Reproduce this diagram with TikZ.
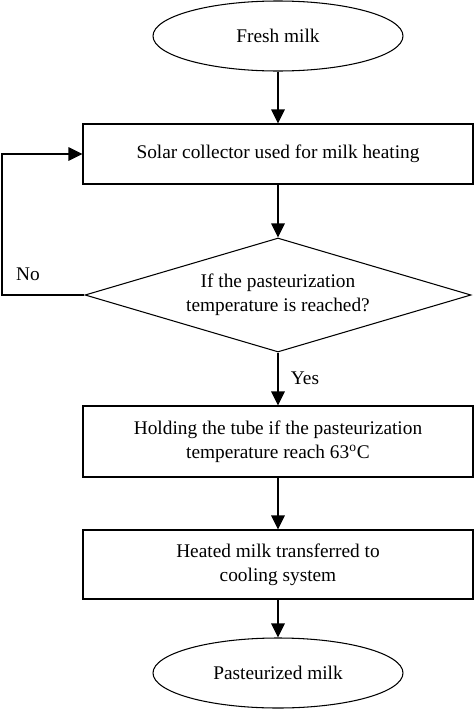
\documentclass[tikz,border=0pt]{standalone}
\usepackage{fontspec}
\setmainfont{Liberation Serif}
\usetikzlibrary{shapes,arrows.meta}

\begin{document}
\begin{tikzpicture}[
    font=\fontsize{11}{13.5}\selectfont,
    line width=0.6pt,
    terminal/.style={ellipse, draw, minimum width=5cm, minimum height=1.4cm},
    process/.style={rectangle, draw, align=center, minimum width=7.8cm},
    decision/.style={diamond, draw, align=center, aspect=3.39, minimum width=7.72cm, minimum height=2.28cm, inner sep=0pt},
    flow/.style={-{Triangle[length=0.28cm, width=0.27cm]}}
]
    \useasboundingbox (0,0) rectangle (9.48,-14.2);

    % Flow chart
    \node[terminal] (fresh) at (5.56,-0.72) {Fresh milk};
    \node[process, minimum height=1.2cm] (solar) at (5.56,-3.08) {Solar collector used for milk heating};
    \node[decision] (check) at (5.56,-5.9) {If the pasteurization\\temperature is reached?};
    \node[process, minimum height=1.42cm] (hold) at (5.56,-8.83) {Holding the tube if the pasteurization\\temperature reach 63\textsuperscript{o}C};
    \node[process, minimum height=1.38cm] (cool) at (5.56,-11.29) {Heated milk transferred to\\cooling system};
    \node[terminal] (pasteur) at (5.56,-13.46) {Pasteurized milk};

    \draw[flow] (fresh) -- (solar);
    \draw[flow] (solar) -- (check);
    \draw[flow] (check) -- (hold);
    \draw[flow] (hold) -- (cool);
    \draw[flow] (cool) -- (pasteur);

    % Loop back
    \coordinate (back) at (0.04,-5.9);
    \draw[flow] (check.west) -- (back) |- (solar.west);

    \node (no) at (0.56,-5.48) {No};
    \node (yes) at (6.1,-7.56) {Yes};
\end{tikzpicture}
\end{document}
